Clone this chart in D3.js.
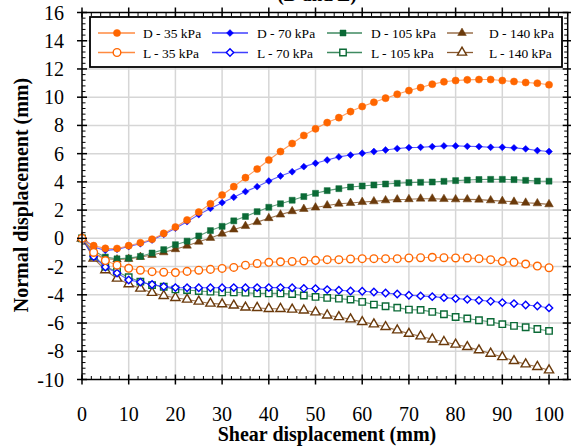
<!DOCTYPE html>
<html>
<head>
<meta charset="utf-8">
<script src="https://cdn.jsdelivr.net/npm/d3@7"></script>
<style>
  html, body { margin: 0; padding: 0; background: #fff; }
</style>
</head>
<body>
<svg id="chart" width="571" height="447" font-family="'Liberation Serif', 'Times New Roman', Times, serif"></svg>
<script>
// Shear displacement readings (mm)
const shear = [0, 2.5, 5, 7.5, 10, 12.5, 15, 17.5, 20, 22.5, 25, 27.5, 30, 32.5, 35, 37.5, 40,
  42.5, 45, 47.5, 50, 52.5, 55, 57.5, 60, 62.5, 65, 67.5, 70, 72.5, 75, 77.5, 80, 82.5, 85,
  87.5, 90, 92.5, 95, 97.5, 100];

// Normal displacement (mm), dense specimens
const d35 = [0, -0.52, -0.71, -0.72, -0.52, -0.31, -0.06, 0.35, 0.80, 1.30, 1.86, 2.45, 3.07,
  3.66, 4.30, 4.91, 5.55, 6.15, 6.72, 7.29, 7.76, 8.20, 8.55, 8.98, 9.34, 9.64, 9.93, 10.21,
  10.47, 10.68, 10.92, 11.09, 11.18, 11.23, 11.25, 11.25, 11.18, 11.11, 11.04, 10.99, 10.88];
const d70 = [0, -0.62, -0.85, -0.78, -0.58, -0.38, -0.12, 0.28, 0.72, 1.18, 1.68, 2.12, 2.53,
  2.91, 3.31, 3.66, 4.06, 4.42, 4.72, 5.08, 5.32, 5.55, 5.77, 5.90, 6.03, 6.15, 6.26, 6.36,
  6.43, 6.45, 6.50, 6.55, 6.55, 6.52, 6.50, 6.45, 6.45, 6.41, 6.34, 6.22, 6.15];
const d105 = [0, -0.90, -1.33, -1.45, -1.40, -1.28, -1.04, -0.80, -0.45, -0.20, 0.17, 0.55, 0.85,
  1.24, 1.55, 1.89, 2.20, 2.45, 2.70, 2.96, 3.19, 3.38, 3.52, 3.64, 3.71, 3.78, 3.85, 3.90,
  3.95, 3.97, 3.99, 4.04, 4.09, 4.13, 4.17, 4.18, 4.18, 4.16, 4.11, 4.06, 4.05];
const d140 = [0, -1.05, -1.45, -1.50, -1.46, -1.32, -1.18, -0.99, -0.77, -0.52, -0.24, 0.03, 0.33,
  0.62, 0.87, 1.15, 1.43, 1.68, 1.92, 2.08, 2.18, 2.33, 2.45, 2.50, 2.57, 2.62, 2.69, 2.75,
  2.77, 2.81, 2.81, 2.78, 2.76, 2.76, 2.74, 2.69, 2.64, 2.59, 2.52, 2.48, 2.41];

// Normal displacement (mm), loose specimens
const l35 = [0, -1.00, -1.57, -1.90, -2.12, -2.26, -2.36, -2.40, -2.42, -2.34, -2.26, -2.20, -2.13,
  -2.06, -1.90, -1.78, -1.70, -1.66, -1.64, -1.60, -1.56, -1.51, -1.51, -1.46, -1.44, -1.44,
  -1.44, -1.44, -1.39, -1.37, -1.34, -1.37, -1.39, -1.39, -1.44, -1.51, -1.63, -1.70, -1.82,
  -1.96, -2.08];
const l70 = [0, -1.30, -2.03, -2.46, -2.95, -3.10, -3.27, -3.42, -3.49, -3.50, -3.50, -3.50, -3.50,
  -3.49, -3.50, -3.49, -3.49, -3.49, -3.50, -3.55, -3.56, -3.63, -3.68, -3.73, -3.75, -3.80,
  -3.87, -3.94, -4.03, -4.08, -4.13, -4.20, -4.27, -4.32, -4.39, -4.46, -4.55, -4.62, -4.72,
  -4.79, -4.93];
const l105 = [0, -1.25, -2.00, -2.36, -2.75, -3.07, -3.31, -3.43, -3.62, -3.66, -3.73, -3.78, -3.83,
  -3.83, -3.85, -3.90, -3.90, -3.90, -3.95, -4.05, -4.15, -4.22, -4.27, -4.34, -4.50, -4.69,
  -4.81, -4.91, -5.05, -5.07, -5.21, -5.38, -5.57, -5.68, -5.80, -5.92, -6.08, -6.20, -6.30,
  -6.42, -6.56];
const l140 = [0, -1.42, -2.25, -2.84, -3.24, -3.55, -3.85, -4.07, -4.21, -4.33, -4.47, -4.61, -4.66,
  -4.75, -4.89, -4.92, -4.99, -4.99, -5.04, -5.10, -5.23, -5.45, -5.57, -5.73, -5.92, -6.08,
  -6.27, -6.51, -6.75, -6.93, -7.15, -7.33, -7.52, -7.69, -7.92, -8.16, -8.40, -8.68, -8.92,
  -9.10, -9.34];

const seriesNames = ["D - 35 kPa", "D - 70 kPa", "D - 105 kPa", "D - 140 kPa",
                     "L - 35 kPa", "L - 70 kPa", "L - 105 kPa", "L - 140 kPa"];
const seriesValues = [d35, d70, d105, d140, l35, l70, l105, l140];

const xTicks = [0, 10, 20, 30, 40, 50, 60, 70, 80, 90, 100];
const yTicks = [-10, -8, -6, -4, -2, 0, 2, 4, 6, 8, 10, 12, 14, 16];

// Styling per stress level
const colors = ["#ff6600", "#0000ff", "#0b6a36", "#6b3a0b"];
const lineColors = ["#ff8a40", "#3f3fff", "#3f8a60", "#8a5a30"];
const shapes = [d3.symbolCircle, d3.symbolDiamond2, d3.symbolSquare, d3.symbolTriangle];
const shapeSizes = [40, 30, 36, 32];

const svg = d3.select("#chart");
const plotL = 82, plotR = 567.7, plotT = 12.5, plotB = 379.5;
const x = d3.scaleLinear().domain([0, 104]).range([plotL, plotR]);
const y = d3.scaleLinear().domain([-10, 16]).range([plotB, plotT]);

// Gridlines
const grid = svg.append("g").attr("stroke", "#d6d6d6").attr("stroke-width", 1.5);
grid.selectAll(".gx").data(xTicks.filter(v => v > 0)).join("line")
  .attr("x1", d => x(d)).attr("x2", d => x(d)).attr("y1", plotT).attr("y2", plotB);
grid.selectAll(".gy").data(yTicks.filter(v => v > -10 && v < 16)).join("line")
  .attr("x1", plotL).attr("x2", plotR).attr("y1", d => y(d)).attr("y2", d => y(d));

// Series
const order = [3, 7, 2, 6, 1, 5, 0, 4];
const lineGen = d3.line().x(d => x(d[0])).y(d => y(d[1]));
order.forEach(i => {
  const lvl = i % 4;
  const open = i >= 4;
  const pts = shear.map((s, k) => [s, seriesValues[i][k]]);
  const g = svg.append("g");
  g.append("path").datum(pts).attr("d", lineGen)
    .attr("fill", "none").attr("stroke", lineColors[lvl])
    .attr("stroke-width", 1.1).attr("stroke-opacity", 0.85);
  const sym = d3.symbol().type(shapes[lvl]).size(open ? shapeSizes[lvl] * 1.15 : shapeSizes[lvl]);
  g.selectAll("path.m").data(pts).join("path").attr("class", "m")
    .attr("d", sym)
    .attr("transform", d => `translate(${x(d[0])},${y(d[1])})`)
    .attr("fill", open ? "#fff" : colors[lvl])
    .attr("stroke", colors[lvl])
    .attr("stroke-width", open ? 1.4 : 0.5);
});

// Frame and ticks
const axisG = svg.append("g").attr("stroke", "#000");
axisG.append("rect").attr("x", plotL).attr("y", plotT)
  .attr("width", plotR - plotL).attr("height", plotB - plotT)
  .attr("fill", "none").attr("stroke-width", 1.5);

const xMinor = d3.range(0, 104.01, 2).filter(v => v % 10 !== 0);
const yMinor = d3.range(-10, 16.01, 0.4).filter(v => Math.abs(v / 2 - Math.round(v / 2)) > 0.01);

// bottom & top
[plotB, plotT].forEach((yy, j) => {
  const dir = j === 0 ? -1 : 1;
  axisG.selectAll(null).data(xTicks).join("line")
    .attr("x1", d => x(d)).attr("x2", d => x(d))
    .attr("y1", yy - 5).attr("y2", yy + 5).attr("stroke-width", 1.5);
  axisG.selectAll(null).data(xMinor).join("line")
    .attr("x1", d => x(d)).attr("x2", d => x(d))
    .attr("y1", yy).attr("y2", yy + dir * 3.5).attr("stroke-width", 1);
});
// left & right
[plotL, plotR].forEach((xx, j) => {
  const dir = j === 0 ? 1 : -1;
  axisG.selectAll(null).data(yTicks).join("line")
    .attr("y1", d => y(d)).attr("y2", d => y(d))
    .attr("x1", xx - 5).attr("x2", xx + 5).attr("stroke-width", 1.5);
  axisG.selectAll(null).data(yMinor).join("line")
    .attr("y1", d => y(d)).attr("y2", d => y(d))
    .attr("x1", xx).attr("x2", xx + dir * 3.5).attr("stroke-width", 1);
});

// Tick labels
svg.append("g").selectAll("text").data(xTicks).join("text")
  .attr("x", d => x(d)).attr("y", 421).attr("text-anchor", "middle")
  .attr("font-size", 20).text(d => d);
svg.append("g").selectAll("text").data(yTicks).join("text")
  .attr("x", 64).attr("y", d => y(d) + 7).attr("text-anchor", "end")
  .attr("font-size", 20).text(d => d);

// Axis titles
svg.append("text").attr("x", 327).attr("y", 441).attr("text-anchor", "middle")
  .attr("font-size", 20).attr("font-weight", "bold").text("Shear displacement (mm)");
svg.append("text").attr("transform", "translate(28,195) rotate(-90)")
  .attr("text-anchor", "middle").attr("font-size", 20).attr("font-weight", "bold")
  .text("Normal displacement (mm)");

// Heading above the plot
svg.append("text").attr("x", 317).attr("y", 1).attr("text-anchor", "middle")
  .attr("font-size", 19).attr("font-weight", "bold").text("(D and L)");

// Legend
const leg = svg.append("g");
leg.append("rect").attr("x", 90).attr("y", 17).attr("width", 472).attr("height", 50)
  .attr("fill", "#fff").attr("stroke", "#000").attr("stroke-width", 1.8);
const colLine0 = [98, 212, 327, 447], colLine1 = [135, 248, 362, 473];
const colMark = [117, 230, 343, 462], colText = [143, 257, 371, 489];
const rowY = [33, 52.5];
seriesNames.forEach((name, i) => {
  const lvl = i % 4, open = i >= 4, r = open ? 1 : 0;
  const yy = rowY[r];
  leg.append("line").attr("x1", colLine0[lvl]).attr("x2", colLine1[lvl])
    .attr("y1", yy).attr("y2", yy).attr("stroke", lineColors[lvl]).attr("stroke-width", 1.3);
  leg.append("path")
    .attr("d", d3.symbol().type(shapes[lvl]).size(open ? shapeSizes[lvl] * 1.15 : shapeSizes[lvl])())
    .attr("transform", `translate(${colMark[lvl]},${yy})`)
    .attr("fill", open ? "#fff" : colors[lvl]).attr("stroke", colors[lvl])
    .attr("stroke-width", open ? 1.4 : 0.5);
  leg.append("text").attr("x", colText[lvl]).attr("y", yy + 5)
    .attr("font-size", 13.5).text(name);
});
</script>
</body>
</html>
